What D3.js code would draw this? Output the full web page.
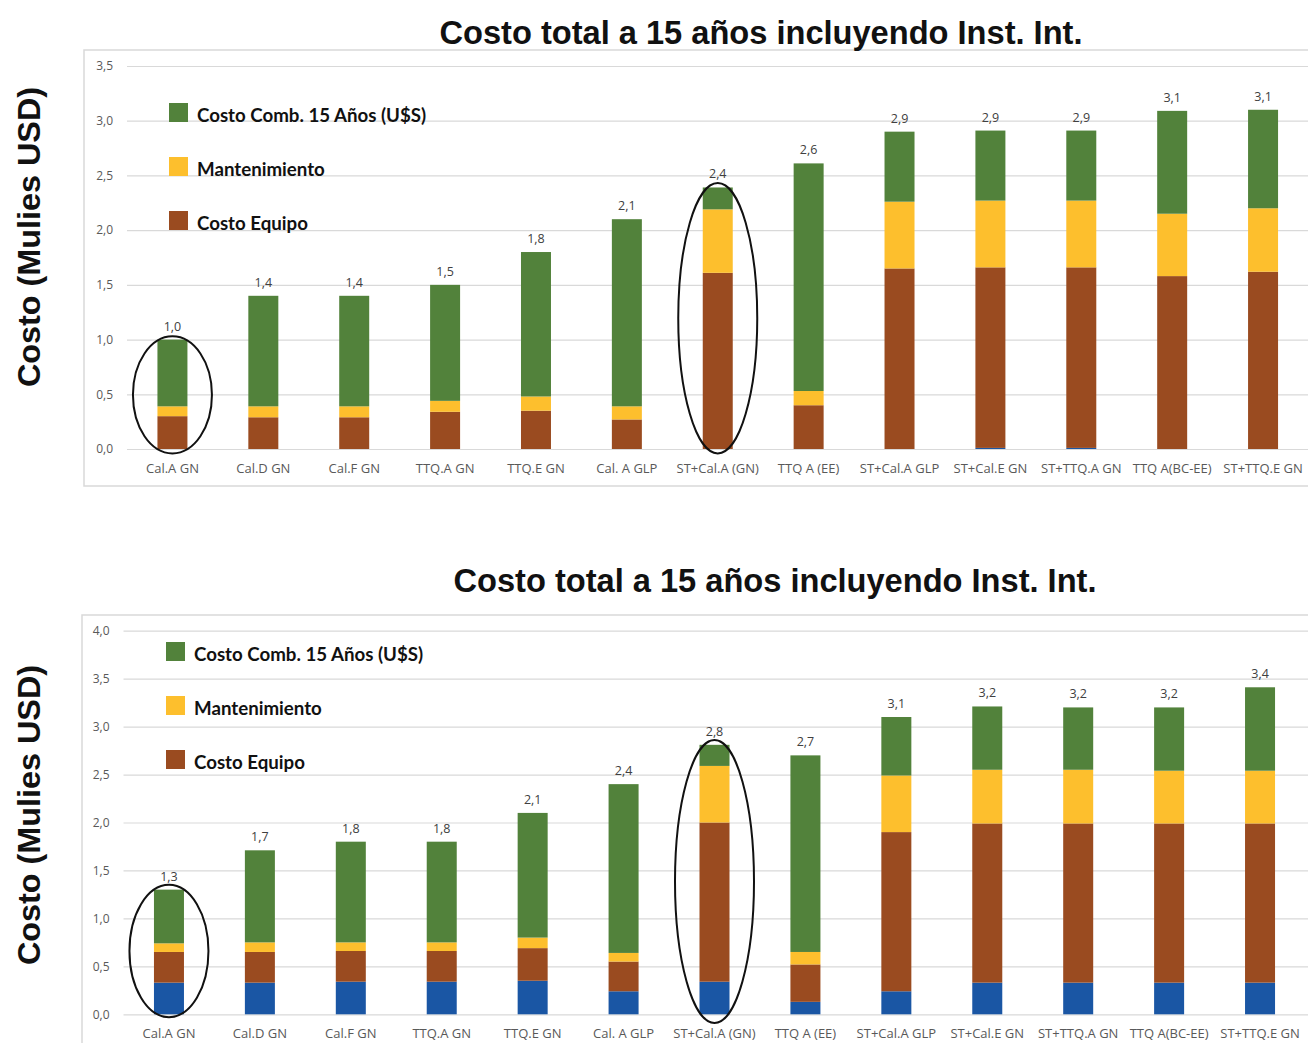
<!DOCTYPE html>
<html>
<head>
<meta charset="utf-8">
<script src="https://cdn.jsdelivr.net/npm/d3@7"></script>
<style>
  html, body { margin: 0; padding: 0; background: #fff; }
  svg { display: block; }
  .tick text { font-family: "Open Sans", sans-serif; fill: #595959; }
</style>
</head>
<body>
<svg id="chart" width="1308" height="1043"></svg>
<script>
var categories = ['Cal.A GN', 'Cal.D GN', 'Cal.F GN', 'TTQ.A GN', 'TTQ.E GN', 'Cal. A GLP',
  'ST+Cal.A (GN)', 'TTQ A (EE)', 'ST+Cal.A GLP', 'ST+Cal.E GN', 'ST+TTQ.A GN', 'TTQ A(BC-EE)', 'ST+TTQ.E GN'];

var seriesNames = ['Costo Comb. 15 Años (U$S)', 'Mantenimiento', 'Costo Equipo'];

// chart 1
var topInst    = [0, 0, 0, 0, 0, 0, 0, 0, 0, 0.01, 0.01, 0, 0];
var topEquipo  = [0.30, 0.29, 0.29, 0.34, 0.35, 0.27, 1.61, 0.40, 1.65, 1.65, 1.65, 1.58, 1.62];
var topMant    = [0.09, 0.10, 0.10, 0.10, 0.13, 0.12, 0.58, 0.13, 0.61, 0.61, 0.61, 0.57, 0.58];
var topComb    = [0.61, 1.01, 1.01, 1.06, 1.32, 1.71, 0.20, 2.08, 0.64, 0.64, 0.64, 0.94, 0.90];
var topTotals  = [1.0, 1.4, 1.4, 1.5, 1.8, 2.1, 2.4, 2.6, 2.9, 2.9, 2.9, 3.1, 3.1];
var topTicks   = [0, 0.5, 1, 1.5, 2, 2.5, 3, 3.5];

// chart 2
var botInst    = [0.33, 0.33, 0.34, 0.34, 0.35, 0.24, 0.34, 0.13, 0.24, 0.33, 0.33, 0.33, 0.33];
var botEquipo  = [0.32, 0.32, 0.32, 0.32, 0.34, 0.31, 1.66, 0.39, 1.66, 1.66, 1.66, 1.66, 1.66];
var botMant    = [0.09, 0.10, 0.09, 0.09, 0.11, 0.09, 0.59, 0.13, 0.59, 0.56, 0.56, 0.55, 0.55];
var botComb    = [0.56, 0.96, 1.05, 1.05, 1.30, 1.76, 0.22, 2.05, 0.61, 0.66, 0.65, 0.66, 0.87];
var botTotals  = [1.3, 1.7, 1.8, 1.8, 2.1, 2.4, 2.8, 2.7, 3.1, 3.2, 3.2, 3.2, 3.4];
var botTicks   = [0, 0.5, 1, 1.5, 2, 2.5, 3, 3.5, 4];

// circled bars: [category, value at top, value at bottom]
var topRings = [['Cal.A GN', 1.03, -0.04], ['ST+Cal.A (GN)', 2.43, -0.04]];
var botRings = [['Cal.A GN', 1.35, -0.03], ['ST+Cal.A (GN)', 2.86, -0.09]];

var colors = { inst: '#1a56a4', equipo: '#9a4b20', mant: '#fdbf2d', comb: '#52823b' };
var comma = function (v) { return d3.format('.1f')(v).replace('.', ','); };

var svg = d3.select('#chart');

function drawChart(opt) {
  var g = svg.append('g');

  // frame
  g.append('rect')
    .attr('x', opt.frame[0]).attr('y', opt.frame[1])
    .attr('width', 1400).attr('height', opt.frame[2])
    .attr('fill', 'none').attr('stroke', '#d9d9d9').attr('stroke-width', 1.5);

  var x = d3.scaleBand().domain(categories).range(opt.xRange).paddingInner(0.67).paddingOuter(0.335);
  var y = d3.scaleLinear().domain([0, opt.yMax]).range(opt.yRange);

  var yAxis = g.append('g')
    .attr('transform', 'translate(' + opt.xRange[0] + ',0)')
    .call(d3.axisLeft(y).tickValues(opt.ticks).tickFormat(comma)
      .tickSize(-(1308 - opt.xRange[0])).tickPadding(opt.tickPad));
  yAxis.select('.domain').remove();
  yAxis.selectAll('.tick line').attr('stroke', '#d9d9d9').attr('stroke-width', 1.2);
  yAxis.selectAll('.tick text').attr('font-size', 12);

  var xAxis = g.append('g')
    .attr('transform', 'translate(0,' + opt.yRange[0] + ')')
    .call(d3.axisBottom(x).tickSize(0).tickPadding(opt.catPad));
  xAxis.select('.domain').remove();
  xAxis.selectAll('.tick text').attr('font-size', 13);

  var rows = categories.map(function (c, i) {
    return { cat: c, inst: opt.inst[i], equipo: opt.equipo[i], mant: opt.mant[i], comb: opt.comb[i] };
  });
  var stack = d3.stack().keys(['inst', 'equipo', 'mant', 'comb'])(rows);

  g.selectAll('g.layer').data(stack).enter().append('g')
    .attr('class', 'layer')
    .attr('fill', function (d) { return colors[d.key]; })
    .selectAll('rect').data(function (d) { return d; }).enter().append('rect')
      .attr('x', function (d) { return x(d.data.cat); })
      .attr('width', x.bandwidth())
      .attr('y', function (d) { return y(d[1]); })
      .attr('height', function (d) { return y(d[0]) - y(d[1]); });

  g.selectAll('text.total').data(rows).enter().append('text')
    .attr('class', 'total')
    .attr('x', function (d) { return x(d.cat) + x.bandwidth() / 2; })
    .attr('y', function (d) { return y(d.inst + d.equipo + d.mant + d.comb) - 9; })
    .attr('text-anchor', 'middle')
    .attr('font-family', '"Open Sans", sans-serif')
    .attr('font-size', 12.5)
    .attr('fill', '#404040')
    .text(function (d, i) { return comma(opt.totals[i]); });

  g.selectAll('ellipse').data(opt.rings).enter().append('ellipse')
    .attr('cx', function (d) { return x(d[0]) + x.bandwidth() / 2; })
    .attr('cy', function (d) { return (y(d[1]) + y(d[2])) / 2; })
    .attr('rx', 39.5)
    .attr('ry', function (d) { return (y(d[2]) - y(d[1])) / 2; })
    .attr('fill', 'none').attr('stroke', '#111').attr('stroke-width', 2);

  // legend
  var legKeys = ['comb', 'mant', 'equipo'];
  var leg = g.selectAll('g.leg').data(seriesNames).enter().append('g')
    .attr('class', 'leg')
    .attr('transform', function (d, i) { return 'translate(' + opt.legend[0] + ',' + (opt.legend[1] + i * 54) + ')'; });
  leg.append('rect').attr('width', 19).attr('height', 19)
    .attr('fill', function (d, i) { return colors[legKeys[i]]; });
  leg.append('text').attr('x', 28).attr('y', 18.5)
    .attr('font-family', 'Lato, sans-serif').attr('font-weight', 700)
    .attr('font-size', 18.7).attr('fill', '#111')
    .text(function (d) { return d; });

  // title
  svg.append('text')
    .attr('x', opt.title[0]).attr('y', opt.title[1])
    .attr('text-anchor', 'middle')
    .attr('font-family', '"Liberation Sans", Arial, sans-serif')
    .attr('font-weight', 700).attr('font-size', 33)
    .attr('textLength', 643).attr('lengthAdjust', 'spacingAndGlyphs')
    .attr('fill', '#111')
    .text('Costo total a 15 años incluyendo Inst. Int.');

  svg.append('text')
    .attr('transform', 'translate(40,' + opt.yLabelY + ') rotate(-90)')
    .attr('text-anchor', 'middle')
    .attr('font-family', '"Liberation Sans", Arial, sans-serif')
    .attr('font-weight', 700).attr('font-size', 32)
    .attr('textLength', 300).attr('lengthAdjust', 'spacingAndGlyphs')
    .attr('fill', '#111')
    .text('Costo (Mulies USD)');
}

drawChart({
  frame: [84, 50, 436],
  xRange: [127, 1308.5], yRange: [449, 66], yMax: 3.5, ticks: topTicks, tickPad: 14, catPad: 15,
  inst: topInst, equipo: topEquipo, mant: topMant, comb: topComb, totals: topTotals,
  rings: topRings, legend: [169, 103], title: [761, 44], yLabelY: 237
});

drawChart({
  frame: [82, 615, 500],
  xRange: [123.5, 1305.5], yRange: [1014.3, 630.7], yMax: 4, ticks: botTicks, tickPad: 14, catPad: 14,
  inst: botInst, equipo: botEquipo, mant: botMant, comb: botComb, totals: botTotals,
  rings: botRings, legend: [166, 642], title: [775, 592], yLabelY: 815
});
</script>
</body>
</html>
